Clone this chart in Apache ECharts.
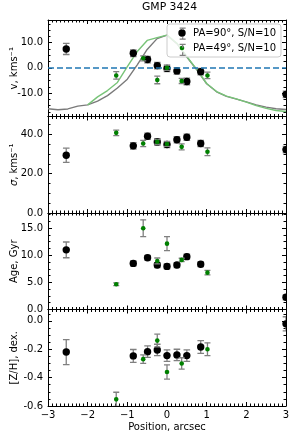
<!DOCTYPE html>
<html><head><meta charset="utf-8">
<script src="https://cdn.jsdelivr.net/npm/echarts@6/dist/echarts.min.js"></script>
<style>html,body{margin:0;padding:0;background:#fff}#c{width:293px;height:441px}</style>
</head><body><div id="c"></div>
<script>
// ---------------- data ----------------
const nameBlack = 'PA=90°, S/N=10';
const nameGreen = 'PA=49°, S/N=10';

const posBlack = [-2.54, -0.85, -0.49, -0.245, 0.0, 0.25, 0.5, 0.85, 3.0];
const posGreen = [-1.28, -0.6, -0.245, 0.0, 0.37, 1.02];

const velBlack    = [7.5, 5.8, 3.3, 0.9, -0.2, -1.2, -5.4, -1.5, -10.5];
const velBlackErr = [2.2, 1.3, 1.3, 1.3, 1.3, 1.3, 1.3, 1.3, 1.3];
const velGreen    = [-3.0, 3.8, -4.8, 0.0, -5.2, -3.0];
const velGreenErr = [1.5, 1.0, 1.5, 1.0, 1.0, 1.3];

const sigBlack    = [29.3, 34.1, 39.0, 36.1, 34.8, 37.2, 38.5, 35.3, 32.2];
const sigBlackErr = [3.6, 1.6, 1.6, 1.6, 1.6, 1.6, 1.6, 1.6, 1.6];
const sigGreen    = [40.7, 35.3, 36.1, 35.0, 33.6, 31.1];
const sigGreenErr = [1.4, 1.6, 1.2, 1.2, 1.5, 2.0];

const ageBlack    = [11.0, 8.5, 9.55, 8.2, 7.95, 8.2, 9.75, 8.35, 2.25];
const ageBlackErr = [1.45, 0.45, 0.45, 0.45, 0.45, 0.45, 0.45, 0.45, 0.45];
const ageGreen    = [4.65, 15.0, 8.95, 12.15, 9.15, 6.8];
const ageGreenErr = [0.25, 1.55, 0.55, 1.3, 0.3, 0.4];

const zhBlack    = [-0.22, -0.247, -0.217, -0.205, -0.245, -0.24, -0.245, -0.184, -0.021];
const zhBlackErr = [0.088, 0.045, 0.04, 0.04, 0.04, 0.04, 0.04, 0.045, 0.05];
const zhGreen    = [-0.553, -0.27, -0.139, -0.36, -0.30, -0.20];
const zhGreenErr = [0.05, 0.03, 0.045, 0.05, 0.04, 0.045];

const modelGrayPos = [-3.0,-2.75,-2.5,-2.25,-2.0,-1.75,-1.5,-1.25,-1.0,-0.75,-0.5,-0.25,0.0,0.25,0.5,0.75,1.0,1.25,1.5,1.75,2.0,2.25,2.5,2.75,3.0];
const modelGray    = [-16.2,-16.6,-16.3,-15.2,-14.7,-13.2,-11.0,-8.0,-4.5,1.2,7.3,11.6,13.0,9.6,4.3,-0.8,-6.3,-9.5,-11.3,-12.4,-13.5,-14.7,-15.6,-16.2,-16.5];
const modelGreenPos = [-2.0,-1.75,-1.5,-1.25,-1.0,-0.75,-0.5,-0.25,0.0,0.25,0.5,0.75,1.0,1.25,1.5,1.75,2.0,2.25,2.5,2.75,3.0];
const modelGreen    = [-14.7,-11.5,-9.0,-5.8,0.5,6.5,10.9,12.0,13.0,9.8,4.5,-0.6,-6.2,-9.4,-11.2,-12.3,-13.6,-15.0,-16.1,-16.9,-17.3];

const xTicks = [-3, -2, -1, 0, 1, 2, 3];
const yLabels = [[-10, 0, 10], [0, 20, 40], [0, 5, 10, 15], [-0.6, -0.4, -0.2, 0.0]];
const yNames = ['v, kms⁻¹', '{i|σ}, kms⁻¹', 'Age, Gyr', '[Z/H], dex.'];

// ---------------- layout / style ----------------
const FONT = 'DejaVu Sans';
const xRange = [-3, 3];
const xMinorStep = 0.1;
const yRanges = [[-19.3, 19], [0, 49], [0, 17.8], [-0.6, 0.08]];
const yMinorStep = [2.5, 5, 1.25, 0.05];
const gridTops = [20, 116.5, 213, 309.5];
const gridH = 96.5;

function zip(xs, ys, es) { return xs.map((x, i) => es ? [x, ys[i], es[i]] : [x, ys[i]]); }
function minorBetween(lo, hi, st, majors) {
  const out = [];
  for (let k = Math.ceil(lo / st - 1e-9); k * st <= hi + 1e-9; k++) {
    const v = +(k * st).toFixed(6);
    if (!majors.some(m => Math.abs(m - v) < 1e-6)) out.push(v);
  }
  return out;
}
const xMinor = minorBetween(xRange[0], xRange[1], xMinorStep, xTicks);

function errRender(capHalf) {
  return function (params, api) {
    const x = api.value(0), y = api.value(1), e = api.value(2);
    const t = api.coord([x, y + e]);
    const b = api.coord([x, y - e]);
    const style = { stroke: '#808080', lineWidth: 1.3, fill: null };
    return { type: 'group', children: [
      { type: 'line', shape: { x1: t[0], y1: t[1], x2: b[0], y2: b[1] }, style },
      { type: 'line', shape: { x1: t[0] - capHalf, y1: t[1], x2: t[0] + capHalf, y2: t[1] }, style },
      { type: 'line', shape: { x1: b[0] - capHalf, y1: b[1], x2: b[0] + capHalf, y2: b[1] }, style }
    ]};
  };
}
function dotRender(r, color) {
  return function (params, api) {
    const p = api.coord([api.value(0), api.value(1)]);
    return { type: 'circle', shape: { cx: p[0], cy: p[1], r }, style: { fill: color } };
  };
}

const panels = [
  [velBlack, velBlackErr, velGreen, velGreenErr],
  [sigBlack, sigBlackErr, sigGreen, sigGreenErr],
  [ageBlack, ageBlackErr, ageGreen, ageGreenErr],
  [zhBlack, zhBlackErr, zhGreen, zhGreenErr]
];

const TICK = { color: '#000', width: 1 };
const grid = [], xAxis = [], yAxis = [], series = [];
for (let i = 0; i < 4; i++) {
  grid.push({ left: 48, right: 7, top: gridTops[i], height: gridH, outerBoundsMode: 'none', containLabel: false });
  const xBase = { type: 'value', gridIndex: i, min: xRange[0], max: xRange[1],
    splitLine: { show: false }, axisLabel: { show: false } };
  ['bottom', 'top'].forEach(pos => {
    const major = Object.assign({}, xBase, {
      position: pos,
      axisLine: { show: true, onZero: false, lineStyle: { color: '#000', width: 1 } },
      axisTick: { show: true, inside: true, length: 4, customValues: xTicks, lineStyle: TICK }
    });
    if (pos === 'bottom' && i === 3) {
      major.axisLabel = { show: true, customValues: xTicks, margin: 4, fontSize: 10, fontFamily: FONT, color: '#000',
        formatter: v => v < 0 ? '\u2212' + Math.abs(v) : String(v) };
      major.name = 'Position, arcsec';
      major.nameLocation = 'middle'; major.nameGap = 16; major.nameMoveOverlap = false;
      major.nameTextStyle = { fontSize: 10, fontFamily: FONT, color: '#000' };
    }
    xAxis.push(major);
    xAxis.push(Object.assign({}, xBase, {
      position: pos, axisLine: { show: false, onZero: false },
      axisTick: { show: true, inside: true, length: 2.5, customValues: xMinor, lineStyle: TICK }
    }));
  });

  const yBase = { type: 'value', gridIndex: i, min: yRanges[i][0], max: yRanges[i][1], splitLine: { show: false } };
  const yMinor = minorBetween(yRanges[i][0], yRanges[i][1], yMinorStep[i], yLabels[i]);
  ['left', 'right'].forEach(pos => {
    const major = Object.assign({}, yBase, {
      position: pos,
      axisLine: { show: true, onZero: false, lineStyle: { color: '#000', width: 1 } },
      axisTick: { show: true, inside: true, length: 4, customValues: yLabels[i], lineStyle: TICK },
      axisLabel: { show: false }
    });
    if (pos === 'left') {
      major.axisLabel = { show: true, customValues: yLabels[i], margin: 5, fontSize: 10, fontFamily: FONT, color: '#000',
        formatter: v => (+v).toFixed(1) };
      major.name = yNames[i]; major.nameLocation = 'middle'; major.nameGap = 29; major.nameMoveOverlap = false;
      major.nameTextStyle = { fontSize: 10, fontFamily: FONT, color: '#000',
        rich: { i: { fontStyle: 'italic', fontSize: 10, fontFamily: FONT, color: '#000' } } };
    }
    yAxis.push(major);
    yAxis.push(Object.assign({}, yBase, {
      position: pos, axisLine: { show: false, onZero: false },
      axisTick: { show: true, inside: true, length: 2.5, customValues: yMinor, lineStyle: TICK },
      axisLabel: { show: false }
    }));
  });

  const xi = 4 * i, yi = 4 * i;
  const [bv, be, gv, ge] = panels[i];
  if (i === 0) {
    series.push({
      type: 'line', xAxisIndex: xi, yAxisIndex: yi, data: zip(modelGrayPos, modelGray),
      showSymbol: false, lineStyle: { color: '#7a7a7a', width: 1.4 }, z: 1, silent: true,
      markLine: { symbol: 'none', silent: true, label: { show: false },
        lineStyle: { color: '#1f77b4', type: [6, 3], width: 1.6 }, data: [{ yAxis: 0 }] }
    });
    series.push({
      type: 'line', xAxisIndex: xi, yAxisIndex: yi, data: zip(modelGreenPos, modelGreen),
      showSymbol: false, lineStyle: { color: '#78c478', width: 1.4 }, z: 1, silent: true
    });
  }
  series.push({ name: nameBlack, type: 'custom', xAxisIndex: xi, yAxisIndex: yi, clip: true,
    data: zip(posBlack, bv, be), encode: { x: 0, y: 1 }, renderItem: errRender(3.3), z: 2, silent: true });
  series.push({ name: nameBlack, type: 'custom', xAxisIndex: xi, yAxisIndex: yi, clip: true,
    data: zip(posBlack, bv), encode: { x: 0, y: 1 }, renderItem: dotRender(3.7, '#000'), z: 3, silent: true });
  series.push({ name: nameGreen, type: 'custom', xAxisIndex: xi, yAxisIndex: yi, clip: true,
    data: zip(posGreen, gv, ge), encode: { x: 0, y: 1 }, renderItem: errRender(3), z: 4, silent: true });
  series.push({ name: nameGreen, type: 'custom', xAxisIndex: xi, yAxisIndex: yi, clip: true,
    data: zip(posGreen, gv), encode: { x: 0, y: 1 }, renderItem: dotRender(2.3, '#008000'), z: 5, silent: true });
}

const circleBig = 'path://M0 0M12 12M9.7 6A3.7 3.7 0 1 1 2.3 6A3.7 3.7 0 1 1 9.7 6Z';
const circleSmall = 'path://M0 0M12 12M8.3 6A2.3 2.3 0 1 1 3.7 6A2.3 2.3 0 1 1 8.3 6Z';
const barBig = 'path://M0 0M12 12M3 0.5L9 0.5M6 0.5L6 2.4M6 9.6L6 11.5M3 11.5L9 11.5';
const barSmall = 'path://M0 0M12 12M3 0.5L9 0.5M6 0.5L6 3.8M6 8.2L6 11.5M3 11.5L9 11.5';

const legendBase = { orient: 'vertical', left: 167, top: 24, padding: [3, 5, 3, 9],
  itemWidth: 12, itemHeight: 12, itemGap: 3, selectedMode: false };

const option = {
  animation: false,
  textStyle: { fontFamily: FONT },
  title: { text: 'GMP 3424', left: 142, top: 2, padding: 0,
    textStyle: { fontSize: 10.8, fontWeight: 'normal', color: '#000', fontFamily: FONT } },
  legend: [
    Object.assign({}, legendBase, { z: 6,
      backgroundColor: 'rgba(255,255,255,0.8)', borderColor: '#cccccc', borderWidth: 1, borderRadius: 3,
      textStyle: { fontSize: 10, fontFamily: FONT, color: '#000' },
      data: [
        { name: nameBlack, icon: circleBig, itemStyle: { color: '#000', borderWidth: 0 } },
        { name: nameGreen, icon: circleSmall, itemStyle: { color: '#008000', borderWidth: 0 } }
      ] }),
    Object.assign({}, legendBase, { z: 7,
      textStyle: { fontSize: 10, fontFamily: FONT, color: 'rgba(0,0,0,0)' },
      data: [
        { name: nameBlack, icon: barBig, itemStyle: { color: 'rgba(0,0,0,0)', borderColor: '#808080', borderWidth: 1.3 } },
        { name: nameGreen, icon: barSmall, itemStyle: { color: 'rgba(0,0,0,0)', borderColor: '#808080', borderWidth: 1.3 } }
      ] })
  ],
  grid, xAxis, yAxis, series
};

const chart = echarts.init(document.getElementById('c'), null, { renderer: 'canvas' });
chart.setOption(option);
</script>
</body></html>
